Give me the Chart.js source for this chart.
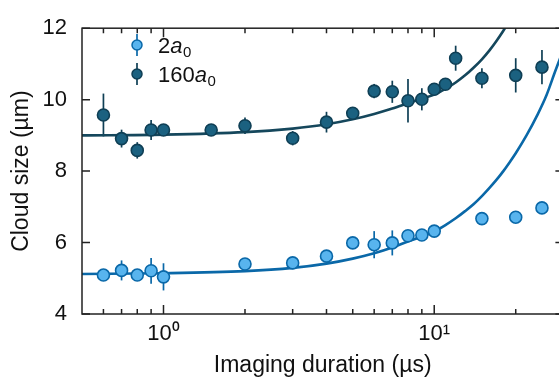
<!DOCTYPE html>
<html lang="en">
<head>
    <meta charset="UTF-8">
    <title>Cloud size vs imaging duration</title>
    <script src="https://cdn.jsdelivr.net/npm/chart.js"></script>
    <style>
        html, body { margin: 0; overflow: hidden; background: #fff; }
        #wrap { width: 571px; min-width: 571px; height: 383px; }
        canvas { display: block; }
    </style>
</head>
<body>
    <div id="wrap"><canvas id="sizeChart" width="571" height="383"></canvas></div>

    <script>
        const FONT = "'Liberation Sans', Arial, Helvetica, sans-serif";

        // 160 a0 data (dark)
        const t160 = [0.6, 0.7, 0.8, 0.9, 1, 1.5, 2, 3, 4, 5, 6, 7, 8, 9, 10, 11, 12, 15, 20, 25];
        const size160 = [9.57, 8.91, 8.58, 9.15, 9.15, 9.15, 9.27, 8.92, 9.37, 9.62, 10.24, 10.22, 9.97, 10.01, 10.29, 10.43, 11.16, 10.6, 10.68, 10.91];
        const err160 = [0.6, 0.25, 0.23, 0.28, 0.15, 0.1, 0.23, 0.2, 0.29, 0.1, 0.2, 0.31, 0.61, 0.31, 0.1, 0.1, 0.35, 0.28, 0.48, 0.48];

        // 2 a0 data (light)
        const t2 = [0.6, 0.7, 0.8, 0.9, 1, 2, 3, 4, 5, 6, 7, 8, 9, 10, 15, 20, 25];
        const size2 = [5.09, 5.22, 5.09, 5.21, 5.04, 5.40, 5.43, 5.62, 5.99, 5.94, 5.99, 6.19, 6.21, 6.32, 6.67, 6.71, 6.97];
        const err2 = [0.1, 0.28, 0.1, 0.36, 0.38, 0.1, 0.1, 0.1, 0.1, 0.38, 0.35, 0.1, 0.1, 0.1, 0.1, 0.1, 0.15];

        // fitted curves
        const fitT = [0.5, 1, 2, 3, 4, 5, 6, 7, 8, 9, 10, 11, 12, 13, 14, 15, 16, 17, 18, 19, 20, 22, 24, 26, 28, 30];
        const fit160 = [9.0, 9.02, 9.09, 9.19, 9.31, 9.45, 9.6, 9.75, 9.9, 10.03, 10.14, 10.3, 10.48, 10.68, 10.9, 11.13, 11.38, 11.65, 11.93, 12.22, 12.52, 13.1, 13.7, 14.3, 14.9, 15.5];
        const fit2 = [5.12, 5.14, 5.2, 5.29, 5.41, 5.55, 5.7, 5.86, 6.03, 6.17, 6.31, 6.49, 6.68, 6.88, 7.08, 7.3, 7.53, 7.76, 8.0, 8.25, 8.5, 9.02, 9.56, 10.13, 10.8, 11.4];

        // axes
        const xMajor = [1, 10];
        const xMajorLabels = ['10\u2070', '10\u00b9'];
        const xMinor = [0.6, 0.7, 0.8, 0.9, 2, 3, 4, 5, 6, 7, 8, 9, 20];
        const yTicks = [4, 6, 8, 10, 12];
        const legendNums = ['2', '160'];

        const light = { fill: '#58b4ee', edge: '#0a68a8', line: '#0a68a8' };
        const dark = { fill: '#1b6180', edge: '#0f3f55', line: '#15475c' };

        const pts = (xs, ys) => xs.map((x, i) => ({ x: x, y: ys[i] }));

        // error bars drawn under the markers
        const errorBars = {
            id: 'errorBars',
            beforeDatasetsDraw(chart) {
                const ctx = chart.ctx;
                const xs = chart.scales.x, ys = chart.scales.y;
                const sets = [[t160, size160, err160, dark.edge], [t2, size2, err2, light.edge]];
                ctx.save();
                ctx.lineWidth = 1.7;
                sets.forEach(([t, v, e, col]) => {
                    ctx.strokeStyle = col;
                    t.forEach((tt, i) => {
                        const px = xs.getPixelForValue(tt);
                        ctx.beginPath();
                        ctx.moveTo(px, ys.getPixelForValue(v[i] - e[i]));
                        ctx.lineTo(px, ys.getPixelForValue(v[i] + e[i]));
                        ctx.stroke();
                    });
                });
                ctx.restore();
            }
        };

        // frame with inward ticks + legend
        const frame = {
            id: 'frame',
            afterDraw(chart) {
                const ctx = chart.ctx;
                const a = chart.chartArea;
                const xs = chart.scales.x, ys = chart.scales.y;
                ctx.save();
                ctx.strokeStyle = '#222';
                ctx.lineWidth = 1.5;
                ctx.strokeRect(a.left, a.top, a.right - a.left, a.bottom - a.top);

                ctx.beginPath();
                yTicks.forEach(v => {
                    const py = ys.getPixelForValue(v);
                    ctx.moveTo(a.left, py); ctx.lineTo(a.left + 8, py);
                    ctx.moveTo(a.right, py); ctx.lineTo(a.right - 8, py);
                });
                xMajor.forEach(v => {
                    const px = xs.getPixelForValue(v);
                    ctx.moveTo(px, a.bottom); ctx.lineTo(px, a.bottom - 9);
                    ctx.moveTo(px, a.top); ctx.lineTo(px, a.top + 9);
                });
                xMinor.forEach(v => {
                    const px = xs.getPixelForValue(v);
                    ctx.moveTo(px, a.bottom); ctx.lineTo(px, a.bottom - 5);
                    ctx.moveTo(px, a.top); ctx.lineTo(px, a.top + 5);
                });
                ctx.stroke();

                // legend
                const cols = [light, dark];
                legendNums.forEach((num, i) => {
                    const cx = 137, cy = 45 + i * 29;
                    const c = cols[i];
                    ctx.strokeStyle = c.edge;
                    ctx.lineWidth = 1.7;
                    ctx.beginPath();
                    ctx.moveTo(cx, cy - 11); ctx.lineTo(cx, cy + 11);
                    ctx.stroke();
                    ctx.beginPath();
                    ctx.arc(cx, cy, 5, 0, Math.PI * 2);
                    ctx.fillStyle = c.fill;
                    ctx.fill();
                    ctx.lineWidth = 1.5;
                    ctx.stroke();

                    let x = 158;
                    const y = cy + 8;
                    ctx.fillStyle = '#111';
                    ctx.textBaseline = 'alphabetic';
                    ctx.font = '22px ' + FONT;
                    ctx.fillText(num, x, y);
                    x += ctx.measureText(num).width;
                    ctx.font = 'italic 22px ' + FONT;
                    ctx.fillText('a', x, y);
                    x += ctx.measureText('a').width;
                    ctx.font = '15px ' + FONT;
                    ctx.fillText('0', x + 0.5, y + 4);
                });
                ctx.restore();
            }
        };

        const ctx = document.getElementById('sizeChart').getContext('2d');
        new Chart(ctx, {
            type: 'scatter',
            data: {
                datasets: [
                    {
                        label: '2a0',
                        data: pts(t2, size2),
                        backgroundColor: light.fill,
                        borderColor: light.edge,
                        borderWidth: 1.6,
                        pointRadius: 6
                    },
                    {
                        label: '160a0',
                        data: pts(t160, size160),
                        backgroundColor: dark.fill,
                        borderColor: dark.edge,
                        borderWidth: 1.6,
                        pointRadius: 6
                    },
                    {
                        type: 'line',
                        label: 'fit 2a0',
                        data: pts(fitT, fit2),
                        borderColor: light.line,
                        borderWidth: 2.6,
                        pointRadius: 0,
                        cubicInterpolationMode: 'monotone',
                        fill: false
                    },
                    {
                        type: 'line',
                        label: 'fit 160a0',
                        data: pts(fitT, fit160),
                        borderColor: dark.line,
                        borderWidth: 2.6,
                        pointRadius: 0,
                        cubicInterpolationMode: 'monotone',
                        fill: false
                    }
                ]
            },
            options: {
                responsive: false,
                animation: false,
                devicePixelRatio: 1,
                layout: { padding: { top: 16, right: 0, left: 0, bottom: 0 } },
                plugins: {
                    legend: { display: false },
                    tooltip: { enabled: false }
                },
                scales: {
                    x: {
                        type: 'logarithmic',
                        min: 0.5,
                        max: 30,
                        grid: { display: false, drawTicks: false },
                        border: { display: false },
                        afterBuildTicks: s => { s.ticks = xMajor.map(v => ({ value: v })); },
                        afterFit: s => { s.height = 69; },
                        ticks: {
                            autoSkip: false,
                            maxRotation: 0,
                            padding: 7,
                            color: '#111',
                            font: { family: FONT, size: 22 },
                            callback: (v, i) => xMajorLabels[i]
                        },
                        title: {
                            display: true,
                            text: 'Imaging duration (\u00b5s)',
                            color: '#111',
                            font: { family: FONT, size: 23 },
                            padding: { top: 0, bottom: 4 }
                        }
                    },
                    y: {
                        min: 4,
                        max: 12,
                        grid: { display: false, drawTicks: false },
                        border: { display: false },
                        afterBuildTicks: s => { s.ticks = yTicks.map(v => ({ value: v })); },
                        afterFit: s => { s.width = 82; },
                        ticks: {
                            padding: 15,
                            color: '#111',
                            font: { family: FONT, size: 22 }
                        },
                        title: {
                            display: true,
                            text: 'Cloud size (\u00b5m)',
                            color: '#111',
                            font: { family: FONT, size: 23 },
                            padding: { top: 8, bottom: 0 }
                        }
                    }
                }
            },
            plugins: [errorBars, frame]
        });
    </script>
</body>
</html>
